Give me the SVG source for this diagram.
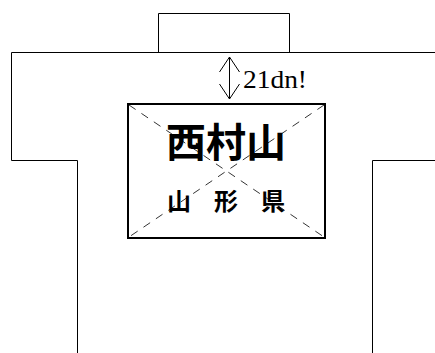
<svg xmlns="http://www.w3.org/2000/svg" width="435" height="353" viewBox="0 0 435 353">
<style>
.o{fill:none;stroke:#000;stroke-width:1}
.d{fill:none;stroke:#000;stroke-width:0.8;stroke-dasharray:8,7}
.j{font-family:"Noto Sans CJK JP",sans-serif;fill:#000;text-anchor:middle}
</style>
<rect width="435" height="353" fill="#fff"/>
<g id="outline">
<path class="o" d="M158.5,53 V13.5 H289.5 V53"/>
<path class="o" d="M435,52.5 H11.5 V160.5 H77.5 V353"/>
<path class="o" d="M435,160.5 H372.5 V353"/>
</g>
<g id="connectors">
<path class="o" d="M229.5,57 V99 M219.5,72 L229.5,57 L239.5,72 M219.5,84 L229.5,99 L239.5,84"/>
<text x="243" y="88" font-family="Liberation Serif,serif" font-size="25" textLength="64" lengthAdjust="spacingAndGlyphs">21dn!</text>
</g>
<g id="box">
<rect x="128" y="104" width="197" height="134" fill="none" stroke="#000" stroke-width="2"/>
<path class="d" d="M129,105 L324,237 M324,105 L129,237"/>
<text class="j" x="226" y="157" font-size="40" font-weight="bold">西村山</text>
<text class="j" x="226" y="210" font-size="24" font-weight="bold" letter-spacing="23" dx="11.5">山形県</text>
</g>
</svg>
